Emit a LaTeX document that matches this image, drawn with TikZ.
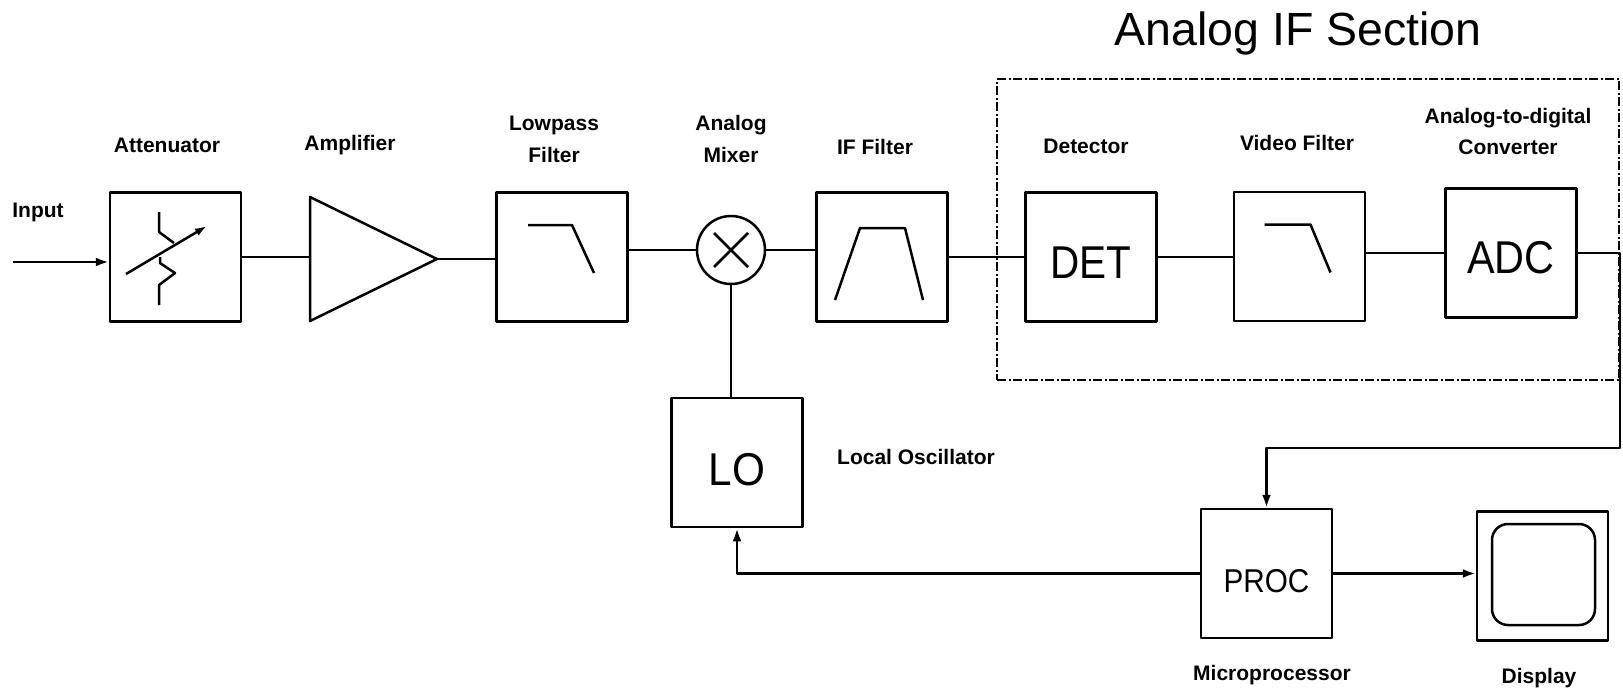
\documentclass[tikz,border=0pt]{standalone}
\usepackage{fontspec}
\usepackage{graphicx}
\setmainfont{Liberation Sans}
\usetikzlibrary{arrows.meta,calc}
\begin{document}
\begin{tikzpicture}[x=1pt,y=-1pt,
  line width=2.5pt, line join=round,
  blk/.style={draw, line width=2.5pt, minimum width=131pt, minimum height=129pt, inner sep=0pt},
  lbl/.style={font=\fontsize{21}{32}\selectfont\bfseries, align=center, inner sep=0pt},
  big/.style={font=\fontsize{46}{50}\selectfont},
  mid/.style={font=\fontsize{33}{36}\selectfont},
  arr/.style={-{Latex[length=13pt,width=9pt]}},
  sect/.style={line width=1.8pt, dash pattern=on 9pt off 2.5pt on 2pt off 2.5pt}]
\useasboundingbox (0,0) rectangle (1623,691);

% section frame and title
\node[draw, sect, minimum width=622pt, minimum height=301pt, inner sep=0pt] (ifsec) at (1308,229.5) {};
\node[font=\fontsize{46.5}{50}\selectfont, anchor=base, inner sep=0pt] (ttl) at (1298,45) {Analog IF Section};

% blocks
\node[blk] (att) at (175.5,257) {};
\coordinate (ampin) at (310,259);
\coordinate (ampout) at (437,259);
\draw (310,197) -- (ampout) -- (310,321) -- cycle;
\node[blk] (lpf) at (562,257) {};
\node[draw, circle, minimum size=68pt, inner sep=0pt] (mix) at (731,250) {};
\node[blk] (iff) at (882,257) {};
\node[blk, big, text height=43pt, text depth=0pt] (det) at (1091,257) {\scalebox{0.88}[1]{DET}};
\node[blk] (vf) at (1299.5,256.5) {};
\node[blk, big, text height=41pt, text depth=0pt] (adc) at (1511,253) {\scalebox{0.9}[1]{ADC}};
\node[blk, big, text height=46pt, text depth=0pt] (lo) at (737,462.5) {\scalebox{0.92}[1]{LO}};
\node[blk, mid, text height=37pt, text depth=0pt] (proc) at (1266.5,573.5) {\scalebox{0.9}[1]{PROC}};
\node[blk] (disp) at (1542.5,576) {};
\node[draw, rounded corners=16pt, minimum width=103pt, minimum height=101pt, line width=2.5pt, inner sep=0pt] (scr) at (1543.5,574.5) {};

% block symbols
\begin{scope}[shift={(att.center)}]
  \draw[-{Latex[length=12pt,width=8pt]}] (-49.5,17) -- (31.5,-31);
  \draw (-16.5,-45) -- (-16.5,-25) -- (-1.5,-14);
  \draw (-15.5,0) -- (-15.5,6) -- (-0.5,16) -- (-16.5,28) -- (-16.5,48);
\end{scope}
\begin{scope}[shift={(lpf.center)}]
  \draw (-34,-32) -- (10,-32) -- (32,16);
\end{scope}
\begin{scope}[shift={(vf.center)}]
  \draw (-35,-32) -- (11,-32) -- (31,16);
\end{scope}
\begin{scope}[shift={(iff.center)}]
  \draw (-47,43) -- (-22,-29) -- (23,-29) -- (41,43);
\end{scope}
\begin{scope}[shift={(mix.center)}]
  \draw (-17,-17) -- (17,17);
  \draw (-17,17) -- (17,-17);
\end{scope}

% connectors
\coordinate (inp) at (13,262);
\coordinate (r1) at (1620,0);
\coordinate (r2) at (1620,448);
\draw[arr] (inp) -- (inp -| att.west);
\draw (att.east) -- (att.east -| ampin);
\draw (ampout) -- (ampout -| lpf.west);
\draw (lpf.east |- mix.west) -- (mix.west);
\draw (mix.east) -- (mix.east -| iff.west);
\draw (iff.east) -- (det.west);
\draw (det.east) -- (det.east -| vf.west);
\draw (vf.east |- adc.west) -- (adc.west);
\draw[arr] (adc.east) -- (adc.east -| r1) -- (r2) -- (r2 -| proc.north) -- (proc.north);
\draw (mix.south) -- (mix.south |- lo.north);
\draw[arr] (proc.west) -- (proc.west -| lo.south) -- (lo.south);
\draw[arr] (proc.east) -- (proc.east -| disp.west);

% labels
\node[lbl] (tin) at (38,212) {Input};
\node[lbl] (tatt) at (167,145) {Attenuator};
\node[lbl] (tamp) at (350,145) {Amplifier};
\node[lbl] (tlpf) at (554,139) {Lowpass\\Filter};
\node[lbl] (tmix) at (731,139) {Analog\\Mixer};
\node[lbl] (tiff) at (875,147) {IF Filter};
\node[lbl] (tdet) at (1086,146) {Detector};
\node[lbl] (tvf) at (1297,143) {Video Filter};
\node[lbl, font=\fontsize{21}{31}\selectfont\bfseries] (tadc) at (1508,131) {Analog-to-digital\\Converter};
\node[lbl] (tlo) at (916,457) {Local Oscillator};
\node[lbl] (tproc) at (1272,675) {Microprocessor};
\node[lbl] (tdisp) at (1539,678) {Display};
\end{tikzpicture}
\end{document}
